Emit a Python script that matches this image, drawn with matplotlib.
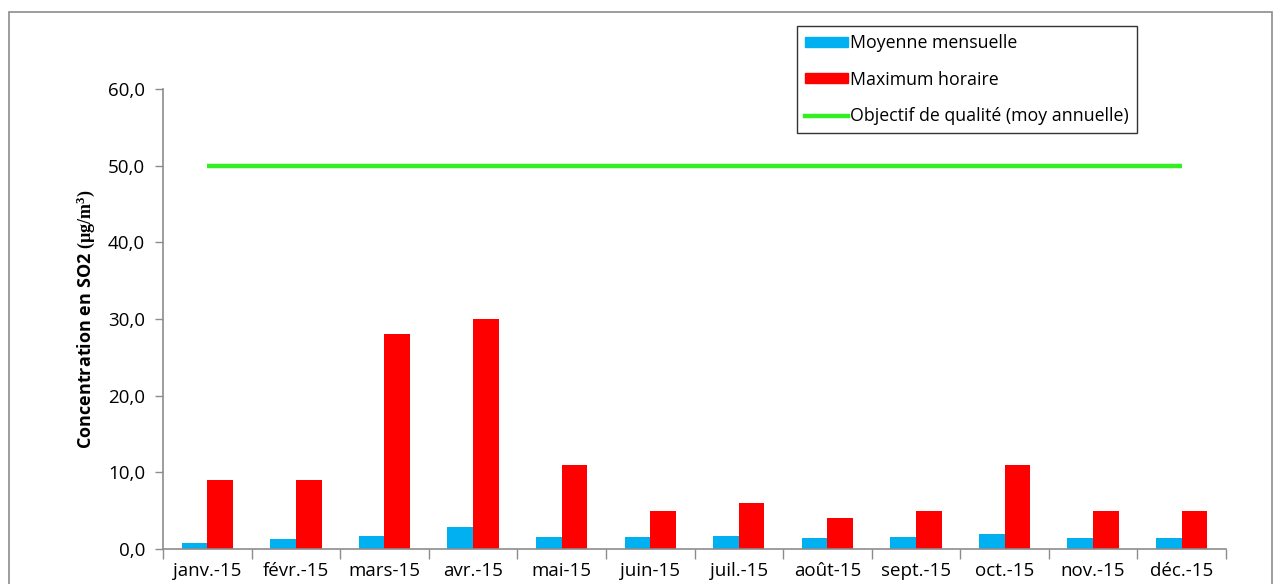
import matplotlib
matplotlib.use("Agg")
import numpy as np
import matplotlib.pyplot as plt
from matplotlib.patches import Rectangle
from matplotlib.lines import Line2D
from matplotlib.ticker import FuncFormatter

# monthly SO2 values (µg/m3)
mois = ['janv.-15', 'févr.-15', 'mars-15', 'avr.-15', 'mai-15', 'juin-15',
        'juil.-15', 'août-15', 'sept.-15', 'oct.-15', 'nov.-15', 'déc.-15']
moyenne_mensuelle = [0.8, 1.3, 1.7, 2.9, 1.6, 1.6, 1.7, 1.5, 1.6, 1.9, 1.4, 1.4]
maximum_horaire = [9, 9, 28, 30, 11, 5, 6, 4, 5, 11, 5, 5]
objectif_qualite = [50] * 12

BLEU = '#00B0F0'
ROUGE = '#FF0000'
VERT = '#33EE22'
GRIS = '#8C8C8C'

plt.rcParams['font.family'] = ['Open Sans', 'DejaVu Sans']
# unit part of the y label is set in a bold serif face
plt.rcParams['mathtext.fontset'] = 'custom'
plt.rcParams['mathtext.rm'] = 'Liberation Serif'
plt.rcParams['mathtext.bf'] = 'Liberation Serif:bold'
plt.rcParams['mathtext.it'] = 'Liberation Serif:italic'

fig = plt.figure(figsize=(12.81, 5.84), dpi=100)
ax = fig.add_axes([163 / 1281, 1 - 549 / 584, (1226 - 163) / 1281, (549 - 89) / 584])

# grey frame around the whole chart area
fig.patches.append(Rectangle((9 / 1281, -0.05), (1272 - 9) / 1281, 1.05 - 12 / 584,
                             transform=fig.transFigure, fill=False,
                             edgecolor=GRIS, linewidth=1.2))

x = np.arange(len(mois))
w = 0.29
ax.bar(x - w / 2, moyenne_mensuelle, width=w, color=BLEU, zorder=2)
ax.bar(x + w / 2, maximum_horaire, width=w, color=ROUGE, zorder=2)
ax.plot(x, objectif_qualite, color=VERT, linewidth=3.2, solid_capstyle='butt', zorder=3)

ax.set_xlim(-0.5, len(mois) - 0.5)
ax.set_ylim(0, 60)
ax.set_yticks(np.arange(0, 61, 10))
ax.yaxis.set_major_formatter(FuncFormatter(lambda v, p: f"{v:.1f}".replace('.', ',')))

# ticks on category boundaries, labels centred on categories
ax.set_xticks(np.arange(-0.5, len(mois), 1))
ax.set_xticklabels([])
ax.set_xticks(x, minor=True)
ax.set_xticklabels(mois, minor=True)
ax.tick_params(axis='x', which='major', length=7, width=1, color=GRIS, direction='out')
ax.tick_params(axis='x', which='minor', length=0, pad=9, labelsize=13.5)
ax.tick_params(axis='y', length=6, width=1, color=GRIS, direction='out', labelsize=13.5, pad=7)

for s in ['top', 'right']:
    ax.spines[s].set_visible(False)
for s in ['left', 'bottom']:
    ax.spines[s].set_color(GRIS)
    ax.spines[s].set_linewidth(1.2)

ax.set_ylabel(r"Concentration en SO2 $\mathbf{(µg/m^3)}$", fontsize=13,
              fontweight='bold', labelpad=8)

handles = [Rectangle((0, 0), 1, 1, color=BLEU),
           Rectangle((0, 0), 1, 1, color=ROUGE),
           Line2D([0], [0], color=VERT, linewidth=3.2)]
labels = ['Moyenne mensuelle', 'Maximum horaire', 'Objectif de qualité (moy annuelle)']
leg = fig.legend(handles, labels, loc='upper left',
                 bbox_to_anchor=(797 / 1281, 1 - 26 / 584),
                 fontsize=12.8, frameon=True, fancybox=False, edgecolor='black',
                 handlelength=2.4, handleheight=0.5, handletextpad=0.15,
                 labelspacing=1.05, borderpad=0.45, borderaxespad=0)
leg.get_frame().set_linewidth(1.0)

fig.savefig('out.png', dpi=100)
